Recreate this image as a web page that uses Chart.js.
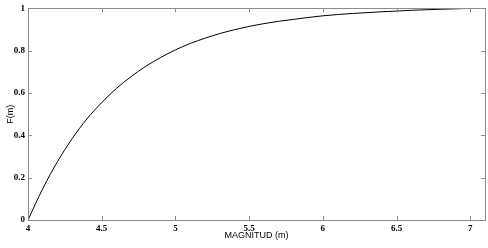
<!DOCTYPE html>
<html>
<head>
<meta charset="utf-8">
<script src="https://cdn.jsdelivr.net/npm/chart.js@4.4.1/dist/chart.umd.min.js"></script>
<style>
  html, body { margin: 0; padding: 0; background: #fff; }
  #wrap { width: 488px; height: 248px; }
</style>
</head>
<body>
<div id="wrap"><canvas id="cdfChart" width="488" height="248"></canvas></div>
<script>
// values
const magnitudes = [4.0, 4.1, 4.2, 4.3, 4.4, 4.5, 4.6, 4.7, 4.8, 4.9, 5.0, 5.1, 5.2, 5.3, 5.4, 5.5, 5.6, 5.7, 5.8, 5.9, 6.0, 6.2, 6.4, 6.6, 6.8, 7.0];
const cdfValues = [0, 0.148, 0.276, 0.385, 0.478, 0.555, 0.622, 0.678, 0.727, 0.768, 0.804, 0.834, 0.859, 0.881, 0.899, 0.915, 0.928, 0.939, 0.948, 0.957, 0.965, 0.976, 0.984, 0.991, 0.996, 1.0];
const xTicks = [4, 4.5, 5, 5.5, 6, 6.5, 7];
const yTicks = [0, 0.2, 0.4, 0.6, 0.8, 1];
const xTitle = 'MAGNITUD (m)';
const yTitle = 'F(m)';

const frameColor = '#8c8c8c';

// MATLAB-style box with inward ticks on all four sides
const boxTicks = {
  id: 'boxTicks',
  afterDraw(chart) {
    const { ctx, chartArea: a, scales } = chart;
    const len = 4;
    ctx.save();
    ctx.strokeStyle = frameColor;
    ctx.lineWidth = 1;
    ctx.strokeRect(Math.round(a.left) + 0.5, Math.round(a.top) + 0.5,
      Math.round(a.right - a.left), Math.round(a.bottom - a.top));
    ctx.beginPath();
    xTicks.forEach(v => {
      const x = Math.round(scales.x.getPixelForValue(v)) + 0.5;
      ctx.moveTo(x, a.bottom); ctx.lineTo(x, a.bottom - len);
      ctx.moveTo(x, a.top); ctx.lineTo(x, a.top + len);
    });
    yTicks.forEach(v => {
      const y = Math.round(scales.y.getPixelForValue(v)) + 0.5;
      ctx.moveTo(a.left, y); ctx.lineTo(a.left + len, y);
      ctx.moveTo(a.right, y); ctx.lineTo(a.right - len, y);
    });
    ctx.stroke();
    ctx.restore();
  }
};

const tickFont = { family: 'Liberation Serif', size: 9, weight: 'bold' };
const titleFont = { family: 'Liberation Sans', size: 9 };

new Chart(document.getElementById('cdfChart'), {
  type: 'line',
  data: {
    datasets: [{
      data: magnitudes.map((m, i) => ({ x: m, y: cdfValues[i] })),
      borderColor: '#000',
      borderWidth: 1,
      pointRadius: 0,
      cubicInterpolationMode: 'monotone',
      fill: false
    }]
  },
  options: {
    responsive: false,
    animation: false,
    layout: { padding: { top: 4, right: 3, left: 0, bottom: 0 } },
    plugins: { legend: { display: false }, tooltip: { enabled: false } },
    scales: {
      x: {
        type: 'linear',
        min: 4,
        max: 7.1,
        afterBuildTicks: s => { s.ticks = xTicks.map(v => ({ value: v })); },
        afterFit: s => { s.height = 28; },
        grid: { display: false, drawTicks: false },
        border: { display: false },
        ticks: { color: '#000', font: tickFont, padding: 3, maxRotation: 0, autoSkip: false,
          callback: v => String(v) },
        title: { display: true, text: xTitle, color: '#000', font: titleFont, padding: 7 }
      },
      y: {
        type: 'linear',
        min: 0,
        max: 1,
        afterBuildTicks: s => { s.ticks = yTicks.map(v => ({ value: v })); },
        afterFit: s => { s.width = 28; },
        grid: { display: false, drawTicks: false },
        border: { display: false },
        ticks: { color: '#000', font: tickFont, padding: 3, autoSkip: false,
          callback: v => String(v) },
        title: { display: true, text: yTitle, color: '#000', font: titleFont, padding: 5 }
      }
    }
  },
  plugins: [boxTicks]
});
</script>
</body>
</html>
